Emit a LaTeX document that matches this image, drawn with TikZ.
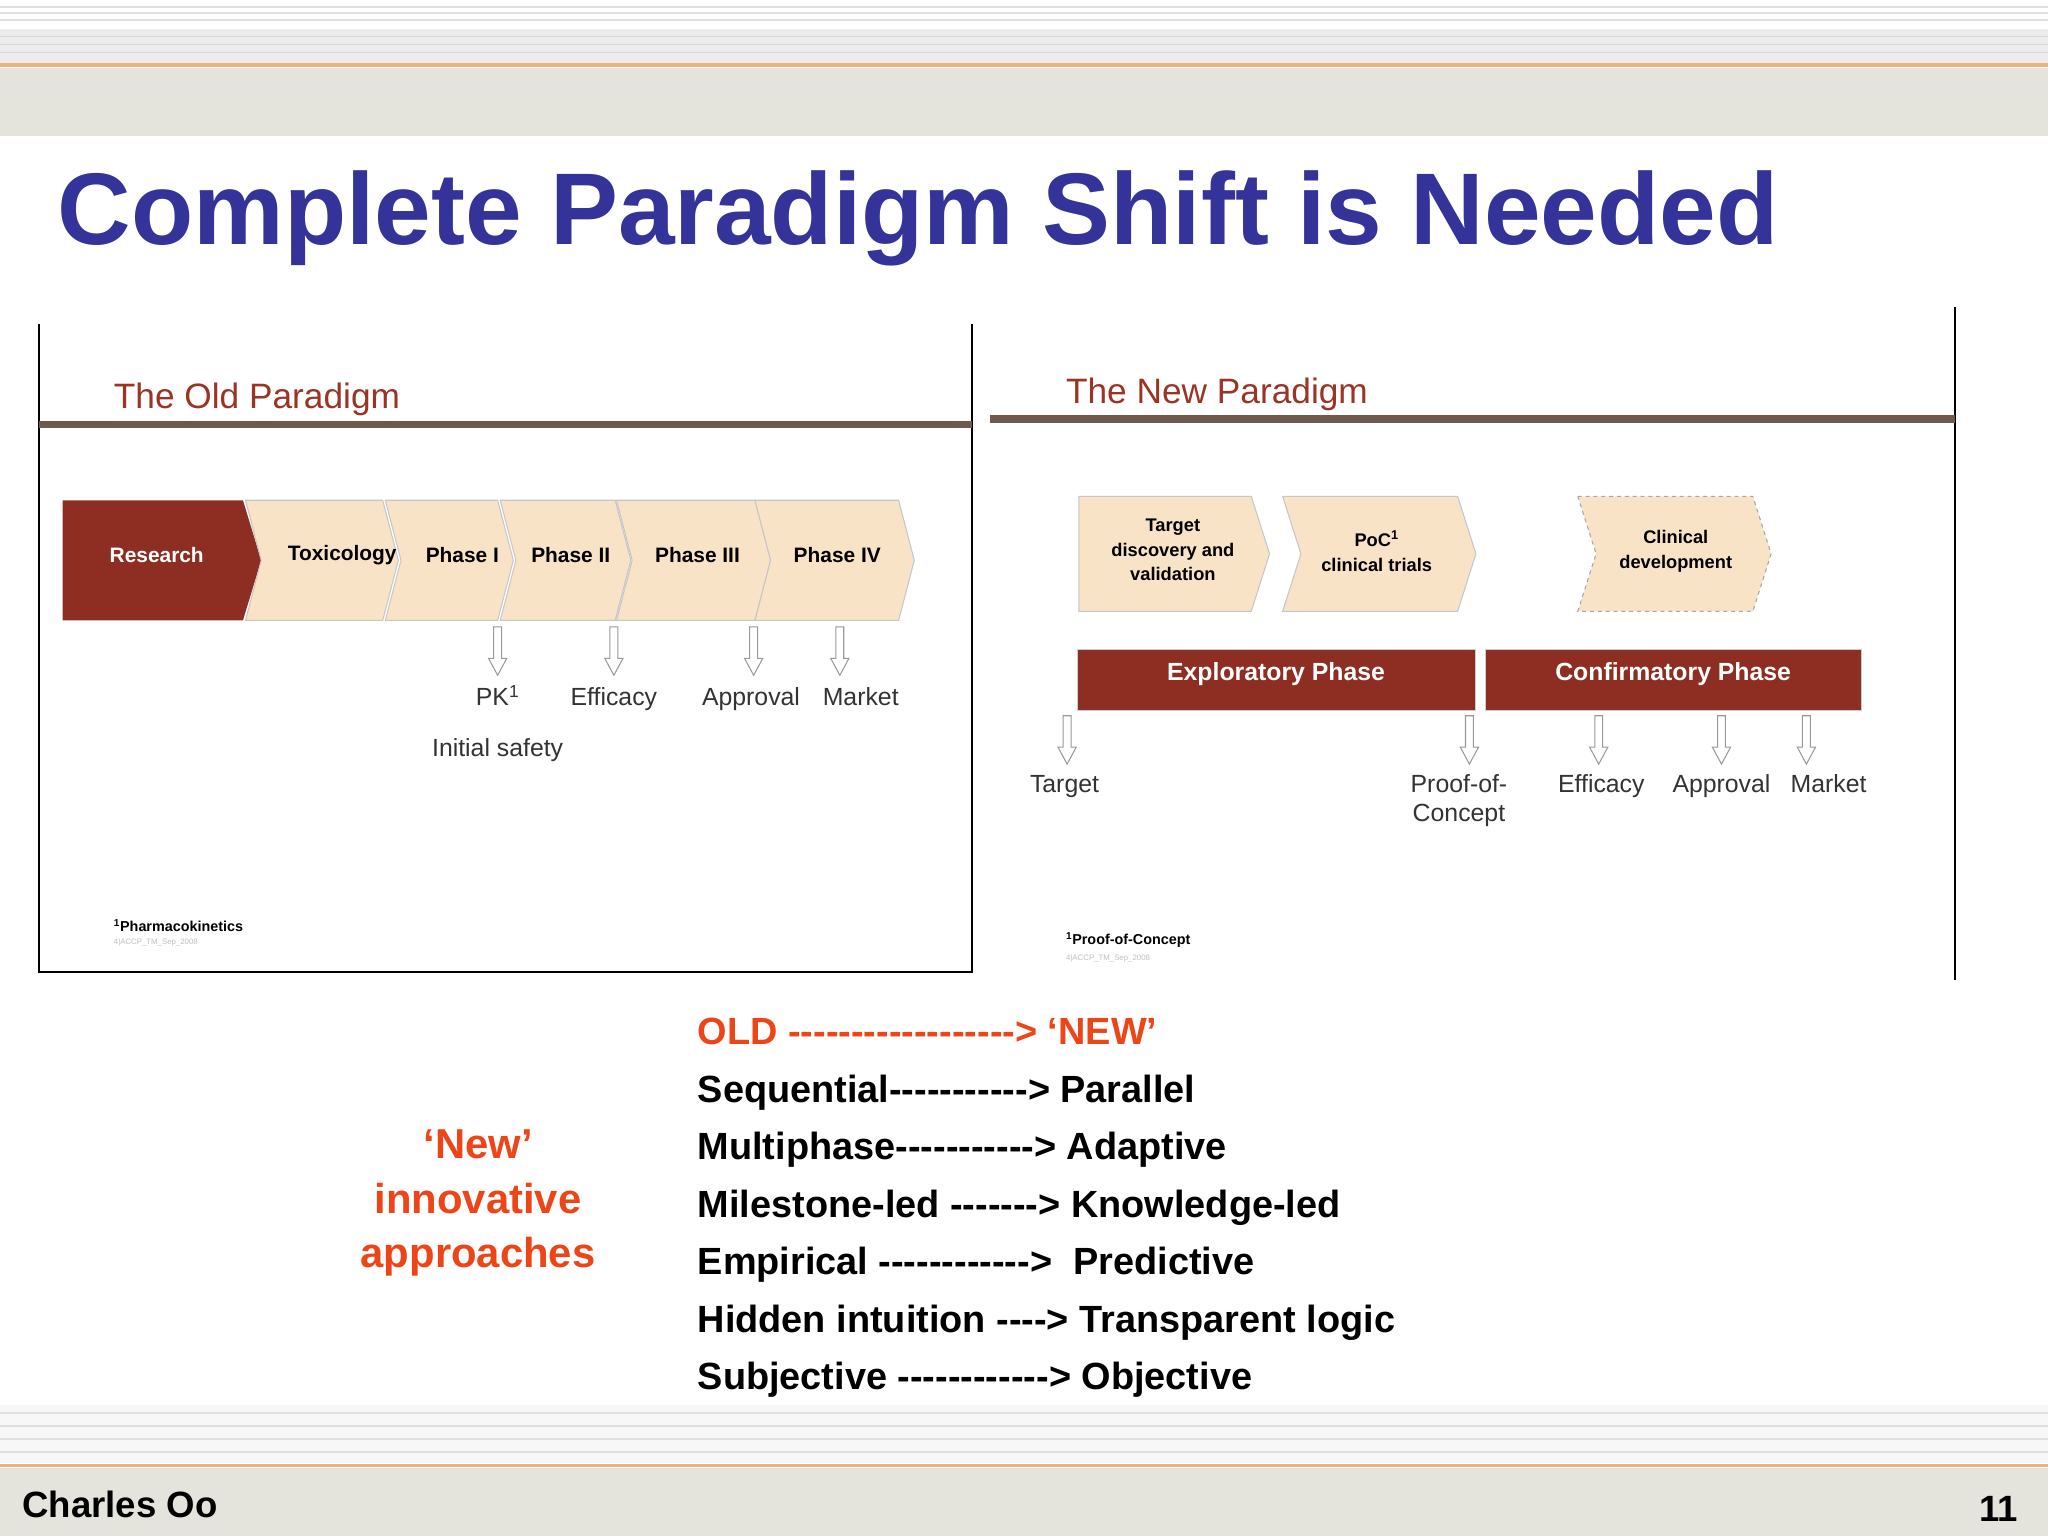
\documentclass[tikz,border=0pt]{standalone}
\usepackage{fontspec}
\setmainfont[Ligatures=TeXOff]{Liberation Sans}
\usetikzlibrary{calc}
\definecolor{ttl}{HTML}{333399}
\definecolor{dred}{HTML}{8E2E22}
\definecolor{chev}{HTML}{F9E3C6}
\definecolor{brule}{HTML}{6E5A4C}
\definecolor{ptitle}{HTML}{9A3526}
\definecolor{orng}{HTML}{EE4518}
\definecolor{band}{HTML}{E4E4DC}
\newcommand{\chv}[7]{% x1,x2,yt,yb,d,notch(0/1),style
  \pgfmathsetmacro\ym{(#3+#4)/2}
  \pgfmathsetmacro\xt{#2-#5}
  \pgfmathsetmacro\xn{#1+#6*#5}
  \path[#7] (#1,#3)--(\xt,#3)--(#2,\ym)--(\xt,#4)--(#1,#4)--(\xn,\ym)--cycle;}
\newcommand{\darr}[3]{% x, ytop, ybot
  \pgfmathsetmacro\yh{#3-13}
  \path[draw=gray!80,fill=white,line width=0.8] (#1-3,#2)--(#1+3,#2)--(#1+3,\yh)--(#1+7,\yh)--(#1,#3)--(#1-7,\yh)--(#1-3,\yh)--cycle;}
\tikzset{
  chv/.style={fill=chev,draw=gray!45,line width=0.8},
  ctext/.style={font=\fontsize{16}{18}\selectfont\bfseries,align=center},
  lbl/.style={font=\fontsize{19}{21}\selectfont,text=black!80,anchor=base,inner sep=0},
  big/.style={font=\fontsize{29}{32}\selectfont\bfseries,anchor=base west,inner sep=0},
  bar/.style={fill=dred,draw=gray!40,line width=0.8},
}
\begin{document}
\begin{tikzpicture}[x=1pt,y=-1pt]
\useasboundingbox (0,0) rectangle (1568,1176);
\fill[white] (0,0) rectangle (1568,1176);
% top band
\foreach \y in {5,10,15} \draw[gray!25,line width=1.5] (0,\y)--(1568,\y);
\fill[gray!15] (0,22) rectangle (1568,48);
\foreach \y in {28,34,40} \draw[gray!30,line width=1] (0,\y)--(1568,\y);
\draw[orange!50!brown!60,line width=3] (0,50)--(1568,50);
\fill[band] (0,52) rectangle (1568,104);
% bottom band
\fill[gray!6] (0,1076) rectangle (1568,1120);
\foreach \y in {1082,1092,1102,1112} \draw[gray!25,line width=1.5] (0,\y)--(1568,\y);
\draw[orange!50!brown!60,line width=3] (0,1122)--(1568,1122);
\fill[band] (0,1124) rectangle (1568,1176);
\node[font=\fontsize{28}{30}\selectfont\bfseries,anchor=base west,inner sep=0] (author) at (17,1162) {Charles Oo};
\node[font=\fontsize{28}{30}\selectfont\bfseries,anchor=base east,inner sep=0] (pg) at (1545,1165) {11};
% title
\node[font=\fontsize{78}{82}\selectfont\bfseries,text=ttl,anchor=base west,inner sep=0] (title) at (44,187) {Complete Paradigm Shift is Needed};
% left panel
\draw[black,line width=1.5] (30,248)--(30,744)--(744,744)--(744,248);
\node[font=\fontsize{27}{29}\selectfont,text=ptitle,anchor=base west,inner sep=0] (oldt) at (87,313) {The Old Paradigm};
\draw[brule,line width=6] (30,325)--(744,325);
\chv{48}{200}{383}{475}{14}{0}{fill=dred}
\chv{188}{305}{383}{475}{12}{1}{chv}
\chv{295}{393}{383}{475}{12}{1}{chv}
\chv{383}{483}{383}{475}{12}{1}{chv}
\chv{472}{590}{383}{475}{12}{1}{chv}
\chv{578}{700}{383}{475}{12}{1}{chv}
\node[ctext,text=white] (res) at (120,425) {Research};
\node[ctext] (tox) at (262,425) {Toxicology};
\node[ctext] (p1) at (354,425) {Phase I};
\node[ctext] (p2) at (437,425) {Phase II};
\node[ctext] (p3) at (534,425) {Phase III};
\node[ctext] (p4) at (641,425) {Phase IV};
\darr{381}{480}{517}\darr{470}{480}{517}\darr{577}{480}{517}\darr{643}{480}{517}
\node[lbl] (pk) at (381,540) {PK\textsuperscript{1}};
\node[lbl] (eff) at (470,540) {Efficacy};
\node[lbl] (app) at (575,540) {Approval};
\node[lbl] (mkt) at (659,540) {Market};
\node[lbl] (init) at (381,579) {Initial safety};
\node[font=\fontsize{11}{12}\selectfont\bfseries,anchor=base west,inner sep=0] (fn1) at (87,713) {\textsuperscript{1}Pharmacokinetics};
\node[font=\fontsize{6}{7}\selectfont,text=gray!50,anchor=base west,inner sep=0] (fn1b) at (87,723) {4|ACCP\_TM\_Sep\_2008};
% right panel
\draw[black,line width=1.5] (1497,235)--(1497,750);
\node[font=\fontsize{27}{29}\selectfont,text=ptitle,anchor=base west,inner sep=0] (newt) at (816,309) {The New Paradigm};
\draw[brule,line width=6] (758,321)--(1497,321);
\chv{826}{972}{380}{468}{14}{0}{chv}
\chv{982}{1130}{380}{468}{14}{1}{chv}
\chv{1208}{1356}{380}{468}{14}{1}{chv,dashed,draw=gray!70}
\node[ctext,font=\fontsize{14}{19}\selectfont\bfseries] (tdv) at (898,421) {Target\\discovery and\\validation};
\node[ctext,font=\fontsize{14}{19}\selectfont\bfseries] (poc) at (1054,422) {PoC\textsuperscript{1}\\clinical trials};
\node[ctext,font=\fontsize{14}{19}\selectfont\bfseries] (cd) at (1283,422) {Clinical\\development};
\path[bar] (825,497) rectangle (1130,544);
\path[bar] (1137,497) rectangle (1425,544);
\node[ctext,text=white,font=\fontsize{19}{21}\selectfont\bfseries] (exp) at (977,516) {Exploratory Phase};
\node[ctext,text=white,font=\fontsize{19}{21}\selectfont\bfseries] (conf) at (1281,516) {Confirmatory Phase};
\darr{817}{548}{585}\darr{1125}{548}{585}\darr{1224}{548}{585}\darr{1318}{548}{585}\darr{1383}{548}{585}
\node[lbl] (tgt) at (815,607) {Target};
\node[lbl,align=center] (pocl) at (1117,607) {Proof-of-};
\node[lbl] (pocl2) at (1117,629) {Concept};
\node[lbl] (eff2) at (1226,607) {Efficacy};
\node[lbl] (app2) at (1318,607) {Approval};
\node[lbl] (mkt2) at (1400,607) {Market};
\node[font=\fontsize{11}{12}\selectfont\bfseries,anchor=base west,inner sep=0] (fn2) at (816,723) {\textsuperscript{1}Proof-of-Concept};
\node[font=\fontsize{6}{7}\selectfont,text=gray!50,anchor=base west,inner sep=0] (fn2b) at (816,735) {4|ACCP\_TM\_Sep\_2008};
% bottom text
\node[big,text=orng] (l0) at (534,800) {OLD ------------------> ‘NEW’};
\node[big] (l1) at (534,844) {Sequential-----------> Parallel};
\node[big] (l2) at (534,888) {Multiphase-----------> Adaptive};
\node[big] (l3) at (534,932) {Milestone-led -------> Knowledge-led};
\node[big] (l4) at (534,976) {Empirical ------------>\ \ Predictive};
\node[big] (l5) at (534,1020) {Hidden intuition ----> Transparent logic};
\node[big] (l6) at (534,1064) {Subjective ------------> Objective};
\node[font=\fontsize{32}{42}\selectfont\bfseries,text=orng,align=center] (newi) at (366,921) {‘New’\\innovative\\approaches};
\end{tikzpicture}
\end{document}
